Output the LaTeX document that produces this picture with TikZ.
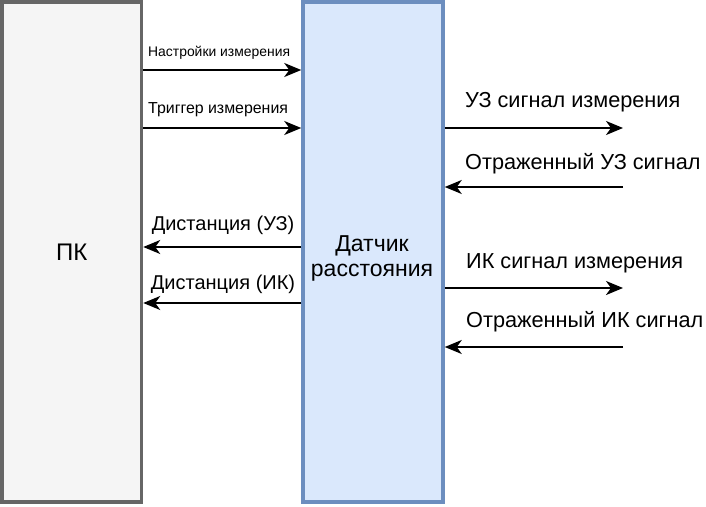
\documentclass[tikz,border=0pt]{standalone}
\usepackage{fontspec}
\setmainfont{Liberation Sans}
\usetikzlibrary{arrows.meta,positioning,calc}

\definecolor{pcgray}{HTML}{666666}
\definecolor{pcfill}{HTML}{F5F5F5}
\definecolor{sensblue}{HTML}{6C8EBF}
\definecolor{sensfill}{HTML}{DAE8FC}

\tikzset{
  block/.style={draw,line width=3.5pt,inner sep=0pt,align=center,
    minimum height=500pt,font=\fontsize{24}{28}\selectfont},
  link/.style={line width=2pt,-{Stealth[length=17pt,width=14pt,inset=5pt]}},
  lbl/.style={inner sep=0pt,anchor=base west,font=\fontsize{21.7}{25}\selectfont},
  smalllbl/.style={lbl,font=\fontsize{13.9}{16}\selectfont}
}

\begin{document}
\begin{tikzpicture}[x=1pt,y=-1pt]
  \useasboundingbox (0,0) rectangle (706,506);

  % blocks
  \node[block,draw=pcgray,fill=pcfill,minimum width=139.5pt] (pc) at (71.75,252) {ПК};
  \node[block,draw=sensblue,fill=sensfill,minimum width=140pt] (sensor) at (373,252) {};
  \node[align=center,inner sep=0pt,font=\fontsize{23}{25}\selectfont] (sensorlbl)
    at (372,258) {Датчик\\расстояния};

  % PC -> sensor
  \foreach \y in {70,128}
    \draw[link] (pc.east |- 0,\y) -- (sensor.west |- 0,\y);
  \node[smalllbl] (setlbl) at (148,56) {Настройки измерения};
  \node[smalllbl,font=\fontsize{15.9}{18}\selectfont] (triglbl) at (148,113) {Триггер измерения};

  % sensor -> PC
  \foreach \y/\ly/\lab/\nm in {247/230/{Дистанция (УЗ)}/usdist, 303/289/{Дистанция (ИК)}/irdist} {
    \draw[link] (sensor.west |- 0,\y) -- (pc.east |- 0,\y);
    \node[lbl,anchor=base,font=\fontsize{20}{24}\selectfont] (\nm) at (223,\ly) {\lab};
  }

  % outside world
  \coordinate (usout) at (623,128);
  \coordinate (usin)  at (623,187);
  \coordinate (irout) at (623,288);
  \coordinate (irin)  at (623,347);
  \draw[link] (sensor.east |- usout) -- (usout);
  \draw[link] (usin) -- (sensor.east |- usin);
  \draw[link] (sensor.east |- irout) -- (irout);
  \draw[link] (irin) -- (sensor.east |- irin);
  \node[lbl] (usoutlbl) at (465,107) {УЗ сигнал измерения};
  \node[lbl] (usinlbl)  at (465,169) {Отраженный УЗ сигнал};
  \node[lbl] (iroutlbl) at (466,268) {ИК сигнал измерения};
  \node[lbl] (irinlbl)  at (466,327) {Отраженный ИК сигнал};
\end{tikzpicture}
\end{document}
